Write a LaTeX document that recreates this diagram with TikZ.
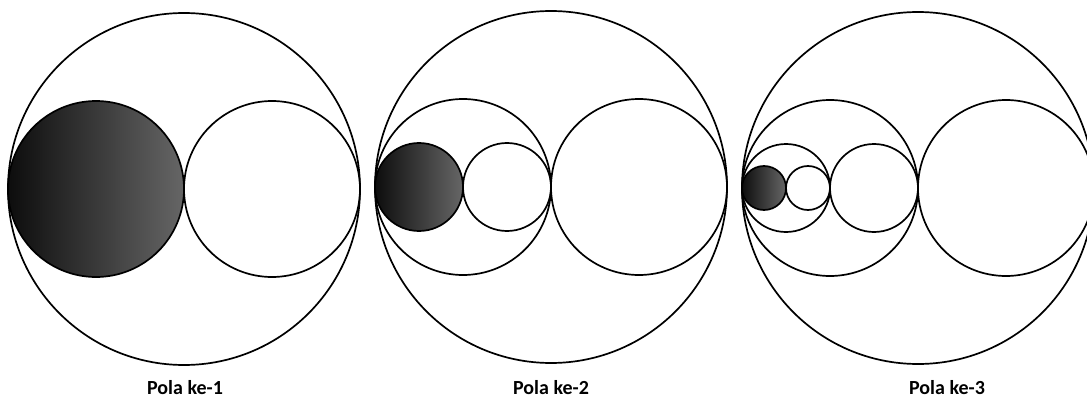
\documentclass[tikz,border=0pt]{standalone}
\usepackage{fontspec}
\setmainfont{Carlito}
\usetikzlibrary{calc}
\tikzset{
  ring/.style={draw=black,line width=1.7pt},
  dark/.style={ring,left color=black!95,right color=black!60},
  caption/.style={font=\fontsize{20}{24}\selectfont\bfseries,inner sep=0pt}
}

\begin{document}
\begin{tikzpicture}[x=1pt,y=-1pt]
\useasboundingbox (0,0) rectangle (1087,401);
% pattern 1: outer circle and its two halves
\coordinate (A) at (184,189);
\draw[ring] (A) circle (176);
\shade[dark] ($(A)+(-88,0)$) circle (88);
\draw[ring] ($(A)+(88,0)$) circle (88);
\node[caption] (capA) at (185,388) {Pola ke-1};
% pattern 2: left half split again
\coordinate (B) at (551,187);
\foreach \dx/\r in {0/176,-88/88,88/88,-44/44}
  \draw[ring] ($(B)+(\dx,0)$) circle (\r);
\shade[dark] ($(B)+(-132,0)$) circle (44);
\node[caption] (capB) at (551,388) {Pola ke-2};
% pattern 3: split once more
\coordinate (C) at (918,188);
\foreach \dx/\r in {0/176,-88/88,88/88,-132/44,-44/44,-110/22}
  \draw[ring] ($(C)+(\dx,0)$) circle (\r);
\shade[dark] ($(C)+(-154,0)$) circle (22);
\node[caption] (capC) at (947,388) {Pola ke-3};
\end{tikzpicture}
\end{document}
